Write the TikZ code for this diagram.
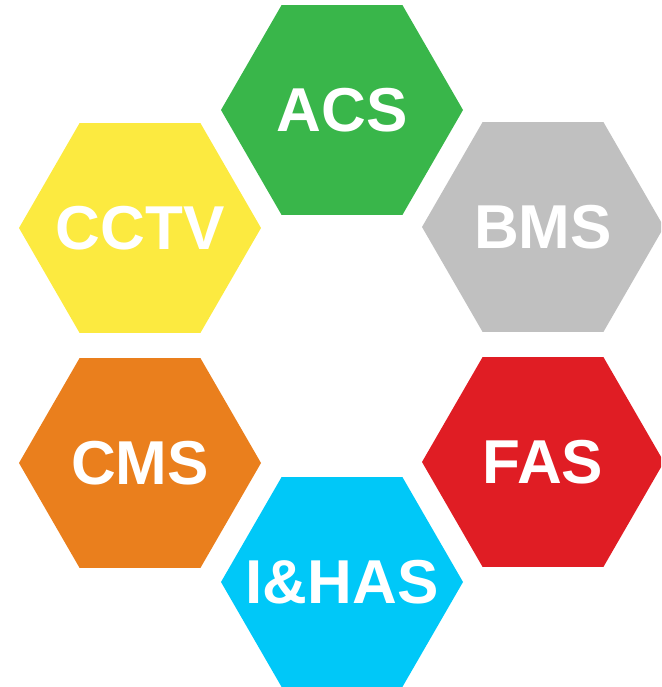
\documentclass[tikz,border=0pt]{standalone}
\usepackage{fontspec}
\setmainfont{Liberation Sans}
\usetikzlibrary{shapes.geometric}
\definecolor{acsgreen}{RGB}{57,182,74}
\definecolor{cctvyellow}{RGB}{252,234,64}
\definecolor{bmsgrey}{RGB}{192,192,192}
\definecolor{cmsorange}{RGB}{234,127,29}
\definecolor{fasred}{RGB}{224,29,36}
\definecolor{hascyan}{RGB}{0,200,248}
\newcommand{\hexlabel}[1]{\makebox[0pt]{#1}}
\tikzstyle{hexa} = [regular polygon, regular polygon sides=6, minimum size=242pt, inner sep=0pt, outer sep=0pt, text=white, font=\fontsize{62}{62}\selectfont\bfseries]

\begin{document}
\begin{tikzpicture}[x=1pt,y=-1pt]
			\useasboundingbox (0,0) rectangle (661,687);
			\clip (0,0) rectangle (661,687);
			\node[hexa, fill=acsgreen] (acs) at (342,110) {\hexlabel{ACS}};
			\node[hexa, fill=cctvyellow] (cctv) at (140,228) {\hexlabel{CCTV}};
			\node[hexa, fill=bmsgrey] (bms) at (543,227) {\hexlabel{BMS}};
			\node[hexa, fill=cmsorange] (cms) at (140,463) {\hexlabel{CMS}};
			\node[hexa, fill=fasred] (fas) at (543,462) {\hexlabel{FAS}};
			\node[hexa, fill=hascyan] (ihas) at (342,582) {\hexlabel{I\&HAS}};
		\end{tikzpicture}
\end{document}
